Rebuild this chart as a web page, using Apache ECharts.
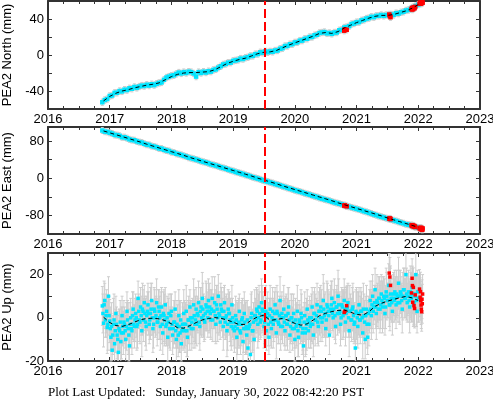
<!DOCTYPE html>
<html><head><meta charset="utf-8">
<script src="https://cdn.jsdelivr.net/npm/echarts@6/dist/echarts.min.js"></script>
<style>html,body{margin:0;padding:0;background:#fff}#c{width:493px;height:400px}</style>
</head><body><div id="c"></div>
<script>
// ---- data ----
const xTicks = [2016, 2017, 2018, 2019, 2020, 2021, 2022, 2023];
const quakeT = 2019.51;

// North / East daily solutions, sampled every 0.04 yr from 2016.88
const neStart = 2016.88, neStep = 0.04;
const north = [-52.5,-50,-49,-45.5,-45,-42,-42,-40,-40.5,-38.5,
 -39,-37,-37.5,-35.5,-36.5,-35,-34,-34.5,-33,-34,
 -32.5,-33.5,-32,-31,-30.5,-27.5,-25,-24,-23,-22.5,
 -21,-19.5,-20.5,-19,-20,-18.5,-19,-20.5,-24,-19,
 -20,-18.5,-19.5,-18,-18.5,-16.5,-16,-14,-12.5,-10.5,
 -10,-8.5,-8.5,-6.5,-6,-5.5,-4,-4.5,-3,-2.5,
 -1,-1,1,1,3,2.5,4,3,4,3.5,
 5,5,7,7.5,10,10,12,12,14,14,
 16,16,18,18,20,20,22,22.5,24.5,25,
 25.5,24,24.5,23.5,25,25,27.5,28,30.5,31,
 32,34.5,35,36.5,36.5,38.5,39,40.5,41,42.5,
 42,43.5,43.5,44.5,43.5,44.5,44,45,44.5,46.5,
 46,47.5,48,49.5,50,51.5,53,54.5,56];
const east = [102.5,100,99.5,97.5,96,93,92.5,91,88,88,
 86,83.5,82,81.5,79,77.5,76.5,74,72,71.5,
 69,68,66.5,64,63.5,61,59.5,58.5,56,55,
 52.5,51.5,50,48,46.5,44,43,41.5,40,38.5,
 36.5,35,33.5,32,30,28.5,27,25.5,23.5,22,
 20.5,18.5,17,15.5,13.5,12,10.5,9,7,5.5,
 4,2,0.5,-1,-2.5,-4.5,-6,-7.5,-9,-10.5,
 -12.5,-14,-15.5,-17.5,-19,-21,-22.5,-24,-26,-27.5,
 -29,-30.5,-32.5,-34,-35.5,-37.5,-39,-40.5,-42.5,-44,
 -45.5,-47,-48.5,-50.5,-52,-53.5,-55,-56.5,-58,-60,
 -61.5,-63,-64.5,-66,-67.5,-69,-71,-72.5,-74.5,-76,
 -78,-79.5,-81.5,-83,-84.5,-86,-87.5,-89,-90.5,-92,
 -94,-95.5,-97,-99,-100,-101.5,-103.5,-105,-106.5];
const errNorth = 3.5, errEast = 6.5;

// Up solutions, sampled every 0.02 yr from 2016.88 (set A) and from 2016.89 (set B)
const upStart = 2016.88, upStartB = 2016.89, upStep = 0.02;
const up = [5.5,-2.5,8,1,-4.5,10,-1.5,
 -9,-15,-3,-12,2,-8,-16,-6,-11,1,
 -7,-3,-10,3,-5,-13,0,-6,4,-4,
 2,-4,9,-1,5,-6,3,7,-2,1,
 6,-3,2,8,-5,4,0,7,-2,3,
 -4,5,-7,1,6,-3,-9,2,-5,3,
 -8,-2,4,-10,-4,1,-7,-12,-3,2,
 -6,3,-9,-1,5,-5,0,6,-3,4,
 2,7,-4,5,9,1,-2,6,3,8,
 5,-1,9,3,7,-3,4,10,1,6,
 3,-4,7,0,-6,4,2,-2,6,-5,
 -6,1,-9,-3,3,-7,-1,-11,2,-5,
 -8,-14,-4,-17,2,-6,-10,1,4,-3,
 5,-2,7,3,-4,1,-6,2,-9,4,
 -5,3,-1,6,-7,2,-3,8,0,-4,
 4,-6,1,-3,5,-8,0,-5,2,-10,
 -4,3,-9,-2,2,-7,-13,1,-5,4,
 -6,0,-3,5,-8,2,-1,6,-4,3,
 5,-2,8,1,-5,6,3,-8,4,9,
 0,7,-4,5,10,2,-3,6,1,8,
 -2,4,7,-6,3,-1,5,-3,-14,2,
 -4,6,-1,3,-7,1,-10,4,-9,-3,
 8,1,10,5,13,2,7,9,4,11,
 5,10,2,12,8,15,6,9,3,11,
 12,6,10,16,7,11,4,13,9,20,
 7,12,5,10,14,6,11,20,3,9];
const upB = [2,6,-1,3,-3,1,-5,
 -4,-8,-1,-6,-3,-10,-5,-2,-7,-4,
 -2,-6,-4,-1,-8,-3,-5,1,-3,-1,
 0,-3,3,-2,1,4,-1,2,-4,3,
 2,-1,4,0,-3,3,1,-2,5,0,
 1,-3,2,-1,-4,0,-2,-5,1,-3,
 -5,-2,-6,-3,-8,-4,-1,-6,-5,-3,
 -3,-6,-1,-4,0,-2,-5,1,-1,-3,
 1,-2,3,0,4,-1,2,5,0,3,
 2,4,-1,3,1,6,0,2,-2,4,
 0,3,-2,1,-3,2,-1,-4,0,-2,
 -4,-1,-5,-2,-6,-3,0,-5,-2,-4,
 -1,-5,-3,0,-6,-2,1,-1,3,0,
 2,-1,4,1,-2,3,0,-3,1,-2,
 0,-3,2,-1,3,-2,1,-4,2,0,
 -2,1,-3,2,-1,-4,0,-2,-5,-1,
 -3,-6,-1,-4,0,-5,-2,-7,-3,-1,
 -2,-4,0,-3,2,-1,1,-2,3,0,
 3,0,4,2,-1,5,1,3,6,2,
 4,1,5,2,6,3,0,5,2,4,
 2,5,0,3,-1,4,1,-2,3,0,
 2,-1,3,0,4,-2,1,-3,2,3,
 4,6,3,7,5,8,4,9,6,8,
 7,9,5,10,8,6,11,7,9,8,
 9,11,7,10,12,8,10,13,9,11,
 10,8,12,9,11,7,10,8,12,9];
const errUp = [9,11,8,10,12,9,10,
 11,9,12,10,8,11,9,10,12,9,
 10,8,11,9,12,10,9,11,8,10,
 9,11,8,10,9,12,10,8,11,9,
 10,9,12,8,11,10,9,11,8,10,
 11,9,10,12,8,10,11,9,10,8,
 9,10,8,11,10,12,9,8,10,11,
 10,12,9,11,8,10,9,12,11,10,
 8,10,11,9,12,10,8,11,9,10,
 11,9,10,8,12,9,11,10,8,10,
 9,11,8,10,12,9,10,11,9,8,
 10,9,12,11,8,10,9,11,10,12,
 9,10,8,11,10,9,12,8,10,11,
 10,8,11,9,10,12,9,10,8,11,
 9,11,10,8,12,10,9,11,10,8,
 11,9,10,12,9,8,11,10,9,10,
 10,12,9,8,11,10,9,11,12,9,
 8,10,11,9,10,12,8,10,9,11,
 10,9,12,10,8,11,10,9,11,8,
 9,11,8,10,12,9,10,8,11,10,
 11,10,9,12,8,10,11,9,10,12,
 10,8,11,9,12,10,9,11,8,10,
 9,11,10,8,10,12,9,10,11,9,
 12,9,10,11,8,10,12,9,11,10,
 10,11,9,12,10,8,11,10,9,12,
 9,10,12,11,9,10,8,12,10,11];

// Model (black dashed) sampled every 0.1 yr from 2016.9
const modelStart = 2016.9, modelStep = 0.1;
const modelNorth = [-51,-46,-42.5,-40,-38.5,-36.5,-35,-33.5,-32.5,-31,-27.5,-24,-21.5,-20,-19.5,-19.5,-19,-18.5,-16.5,-13,-9.5,-7,-5,-3.5,-1,1.5,3,3.5,5,8,11,13.5,16,18.5,21,24,25,24,26,30,33,36,38.5,41,43,44,44,45,47,49,52,56];
const modelEast = [101.5,97.5,93.5,89.5,85.5,81.5,77.5,73,69,65,61,57,53,49,44.5,40.5,36.5,32.5,28.5,24.5,20.5,16.5,12.5,8.5,4.5,0,-4,-8,-12,-16.5,-20.5,-24.5,-28.5,-32.5,-36.5,-40.5,-44.5,-48.5,-53,-57,-61,-65,-69,-73,-77,-81,-85.5,-89.5,-93.5,-97.5,-101.5,-105.5];
const modelUp = [0.3,-2.2,-3.6,-4,-3.2,-2,-0.9,-0.3,-0.2,-0.5,-1.3,-2.8,-4.6,-4.8,-3.6,-2.2,-1,-0.3,0.1,-0.2,-1,-2,-3.2,-3,-1,0.5,1.2,-1.2,-0.8,-0.3,-1.2,-2.6,-3.4,-2.8,-1,1,2.1,2.9,3.4,3.6,2.6,1.6,1.2,2.8,5.3,6.7,7.7,8.5,9.3,9.9,9.2,8];

// Red (rapid) solutions
const redT = [2020.80,2020.81,2020.84,2021.53,2021.54,2021.55,2021.89,2021.90,2021.905,2021.91,2021.92,2021.93,2021.94,2021.95,2022.02,2022.03,2022.035,2022.04,2022.045,2022.05,2022.055,2022.06,2022.065,2022.07];
const redNorth = [27,28.5,28,45,43.5,42,51,52,50.5,52.5,51.5,53,52,53.5,57,58,57.5,58.5,57,59,58,58.5,59.5,58];
const redEast = [-59,-58.5,-60.5,-87,-86.5,-88,-101,-102.5,-101.5,-103,-102,-104,-103.5,-105,-107.5,-108,-106.5,-109,-107,-110,-108.5,-109.5,-111,-108];
const redUp = [2.5,3,5.6,20.7,18.9,15,11.5,18.3,14.9,7.2,14.1,5.6,4.3,10.6,13.3,9.5,12.1,7.9,5.9,4,2.8,8.6,6.5,11];

const footer = 'Plot Last Updated:   Sunday, January 30, 2022 08:42:20 PST';

// ---- chart ----
const FONT = '"Liberation Sans", Arial, sans-serif';
const FRAME = '#333333';
const CYAN = '#00e5ff';
const GRAY = '#cdcdcd';

function r3(v){ return Math.round(v*1000)/1000; }
function pts(start, step, vals, err){
  return vals.map((v,i)=> Array.isArray(err) ? [r3(start+i*step), v, err[i]] : [r3(start+i*step), v, err]);
}

const upData = pts(upStart, upStep, up, errUp).concat(pts(upStartB, upStep, upB, errUp));

const panels = [
  {name:'PEA2 North (mm)', min:-60, max:60, interval:20, lab:40, top:1, height:108,
   data: pts(neStart, neStep, north, errNorth), model: pts(modelStart, modelStep, modelNorth, 0),
   red: redT.map((t,i)=>[t, redNorth[i], errNorth]), size:4.5},
  {name:'PEA2 East (mm)', min:-120, max:110, interval:40, lab:80, top:127, height:107,
   data: pts(neStart, neStep, east, errEast), model: pts(modelStart, modelStep, modelEast, 0),
   red: redT.map((t,i)=>[t, redEast[i], errEast]), size:4.5},
  {name:'PEA2 Up (mm)', min:-20, max:30, interval:10, lab:20, top:253, height:108,
   data: upData, model: pts(modelStart, modelStep, modelUp, 0),
   red: redT.map((t,i)=>[t, redUp[i], 9]), size:3.5}
];

function errRender(params, api){
  const x = api.value(0), y = api.value(1), e = api.value(2);
  const cs = params.coordSys;
  let p1 = api.coord([x, y - e]), p2 = api.coord([x, y + e]);
  const yTop = cs.y, yBot = cs.y + cs.height;
  const c = 1.5;
  const ch = [];
  const a = Math.min(Math.max(p1[1], yTop), yBot), b = Math.min(Math.max(p2[1], yTop), yBot);
  ch.push({type:'line', shape:{x1:p1[0], y1:a, x2:p2[0], y2:b}, style:{stroke:GRAY, lineWidth:1}});
  if (p1[1] <= yBot) ch.push({type:'line', shape:{x1:p1[0]-c, y1:p1[1], x2:p1[0]+c, y2:p1[1]}, style:{stroke:GRAY, lineWidth:1}});
  if (p2[1] >= yTop) ch.push({type:'line', shape:{x1:p2[0]-c, y1:p2[1], x2:p2[0]+c, y2:p2[1]}, style:{stroke:GRAY, lineWidth:1}});
  return {type:'group', children: ch};
}

const grid = [], xAxis = [], yAxis = [], series = [];
panels.forEach((p, i) => {
  grid.push({left:48, width:432, top:p.top, height:p.height, show:false, containLabel:false, outerBoundsMode:'none'});
  const tick = {show:true, inside:true, length:4, lineStyle:{color:FRAME, width:1}};
  const line = {show:true, onZero:false, lineStyle:{color:FRAME, width:2}};
  xAxis.push({type:'value', gridIndex:i, position:'bottom', min:2016, max:2023, interval:1,
    axisLine:line, axisTick:tick, minorTick:{show:true, splitNumber:4, length:3, lineStyle:{color:FRAME}},
    splitLine:{show:false},
    axisLabel:{show:true, margin:4, fontSize:13, fontFamily:FONT, color:'#000', showMinLabel:true, showMaxLabel:true,
      formatter: v => xTicks.includes(v) ? String(v) : ''}});
  xAxis.push({type:'value', gridIndex:i, position:'top', min:2016, max:2023, interval:1,
    axisLine:line, axisTick:tick, minorTick:{show:true, splitNumber:4, length:3, lineStyle:{color:FRAME}},
    splitLine:{show:false}, axisLabel:{show:false}});
  yAxis.push({type:'value', gridIndex:i, position:'left', min:p.min, max:p.max, interval:p.interval,
    axisLine:line, axisTick:tick, splitLine:{show:false},
    name:p.name, nameLocation:'middle', nameGap:34,
    nameTextStyle:{fontSize:13, fontFamily:FONT, color:'#000'},
    axisLabel:{margin:4, fontSize:13, fontFamily:FONT, color:'#000', showMinLabel:true, showMaxLabel:true,
      formatter: v => (v % p.lab === 0 ? String(v) : '')}});
  yAxis.push({type:'value', gridIndex:i, position:'right', min:p.min, max:p.max, interval:p.interval,
    axisLine:line, axisTick:tick, splitLine:{show:false}, axisLabel:{show:false}});

  const xi = i*2, yi = i*2;
  series.push({type:'custom', xAxisIndex:xi, yAxisIndex:yi, renderItem:errRender, data:p.data,
    encode:{x:0, y:1}, silent:true, z:1, animation:false});
  series.push({type:'custom', xAxisIndex:xi, yAxisIndex:yi, renderItem:errRender, data:p.red,
    encode:{x:0, y:1}, silent:true, z:1, animation:false});
  series.push({type:'scatter', xAxisIndex:xi, yAxisIndex:yi, data:p.data.map(d=>[d[0],d[1]]),
    symbol:'rect', symbolSize:p.size, itemStyle:{color:CYAN, opacity:1}, silent:true, z:2, animation:false});
  series.push({type:'scatter', xAxisIndex:xi, yAxisIndex:yi, data:p.red.map(d=>[d[0],d[1]]),
    symbol:'rect', symbolSize:p.size, itemStyle:{color:'#ff0000', opacity:1}, silent:true, z:3, animation:false});
  series.push({type:'line', xAxisIndex:xi, yAxisIndex:yi, data:p.model.map(d=>[d[0],d[1]]),
    showSymbol:false, symbol:'none', lineStyle:{color:'#000', width:1, type:[4,3]}, silent:true, z:4, animation:false,
    markLine:{silent:true, symbol:['none','none'], label:{show:false}, animation:false,
      lineStyle:{color:'#ff0000', width:2, type:[9,4]}, emphasis:{disabled:true},
      data:[{xAxis:quakeT}]}});
});

const chart = echarts.init(document.getElementById('c'), null, {renderer:'canvas'});
chart.setOption({
  animation:false,
  backgroundColor:'#fff',
  grid, xAxis, yAxis, series,
  graphic:[{type:'text', left:48, top:386, silent:true,
    style:{text:footer, font:'13px "Liberation Serif", "Times New Roman", serif', fill:'#000'}}]
});
</script>
</body></html>
